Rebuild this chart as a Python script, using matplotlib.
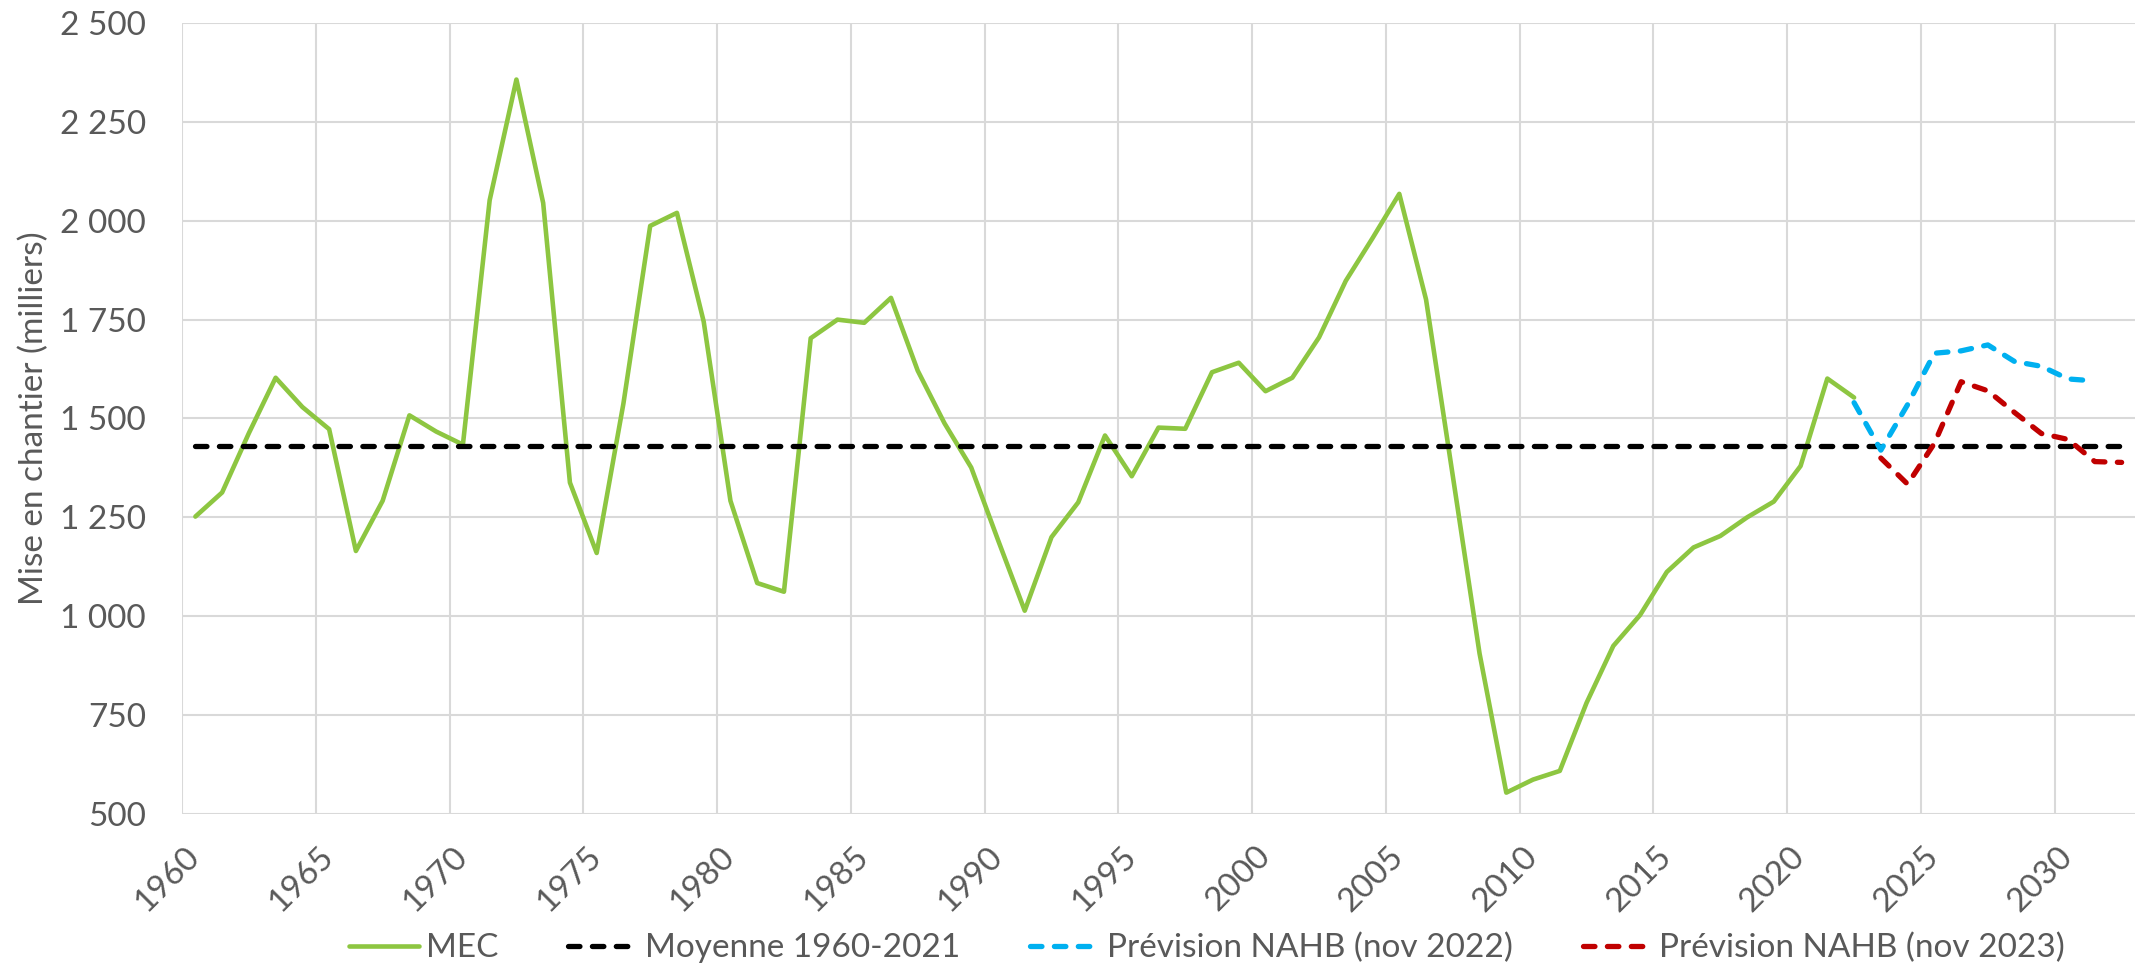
import matplotlib
matplotlib.use("Agg")
import matplotlib.pyplot as plt
import matplotlib.transforms as mtransforms

plt.rcParams['font.family'] = ['Lato', 'DejaVu Sans']

# ---------------- data ----------------
ANNEES_MEC = list(range(1960, 2023))
MEC = [1252, 1313, 1463, 1603, 1529, 1473, 1165, 1292, 1508, 1467,
       1434, 2052, 2357, 2045, 1338, 1160, 1538, 1987, 2020, 1745,
       1292, 1084, 1062, 1703, 1750, 1742, 1805, 1621, 1488, 1376,
       1193, 1014, 1200, 1288, 1457, 1354, 1477, 1474, 1617, 1641,
       1569, 1603, 1705, 1848, 1956, 2068, 1801, 1355, 906, 554,
       587, 609, 781, 925, 1003, 1112, 1174, 1203, 1250, 1290,
       1380, 1601, 1553]

MOYENNE = 1430  # Moyenne 1960-2021

ANNEES_NAHB_2022 = list(range(2022, 2032))
NAHB_2022 = [1540, 1420, 1535, 1665, 1671, 1686, 1644, 1632, 1600, 1595]

ANNEES_NAHB_2023 = list(range(2023, 2033))
NAHB_2023 = [1400, 1334, 1437, 1593, 1570, 1515, 1462, 1447, 1391, 1389]

Y_TICKS = [500, 750, 1000, 1250, 1500, 1750, 2000, 2250, 2500]
X_TICKS = list(range(1960, 2031, 5))

LABELS = ["MEC", "Moyenne 1960-2021", "Prévision NAHB (nov 2022)", "Prévision NAHB (nov 2023)"]
Y_LABEL = "Mise en chantier (milliers)"

# ---------------- style ----------------
W, H = 2136, 971
TXT = '#595959'
GRID = '#D9D9D9'
C_MEC = '#8DC641'
C_MOY = '#000000'
C_22 = '#00B0F0'
C_23 = '#C00000'
FS = 24

fig = plt.figure(figsize=(W / 100, H / 100), dpi=100)
ax = fig.add_axes([182 / W, 1 - 814 / H, (2135 - 182) / W, (814 - 23) / H])

# years are plotted at mid-year (category centre)
def mid(years):
    return [y + 0.5 for y in years]

lw_dash = 3.8
dash = (2.17, 2.36)

l_mec, = ax.plot(mid(ANNEES_MEC), MEC, color=C_MEC, lw=3.3,
                 solid_capstyle='round', solid_joinstyle='round', zorder=3)
l_moy, = ax.plot([ANNEES_MEC[0] + 0.5, ANNEES_NAHB_2023[-1] + 0.5], [MOYENNE, MOYENNE],
                 color=C_MOY, lw=lw_dash, dashes=dash, dash_capstyle='round', zorder=4)
l_22, = ax.plot(mid(ANNEES_NAHB_2022), NAHB_2022, color=C_22, lw=lw_dash, dashes=dash,
                dash_capstyle='round', dash_joinstyle='round', zorder=5)
l_23, = ax.plot(mid(ANNEES_NAHB_2023), NAHB_2023, color=C_23, lw=lw_dash, dashes=dash,
                dash_capstyle='round', dash_joinstyle='round', zorder=6)

ax.set_xlim(1960, 2033)
ax.set_ylim(500, 2500)

ax.set_yticks(Y_TICKS)
ax.set_yticklabels([f"{v:,}".replace(",", " ") for v in Y_TICKS])
ax.set_xticks(X_TICKS)
ax.set_xticklabels([str(x) for x in X_TICKS], rotation=45, ha='right', va='center',
                   rotation_mode='anchor')

ax.tick_params(axis='y', length=0, pad=26, labelsize=FS, labelcolor=TXT)
ax.tick_params(axis='x', length=0, pad=27, labelsize=FS, labelcolor=TXT)

offset = mtransforms.ScaledTranslation(13 / 100, 0, fig.dpi_scale_trans)
for lab in ax.get_xticklabels():
    lab.set_transform(lab.get_transform() + offset)

ax.grid(True, color=GRID, lw=1.5, zorder=0)
ax.set_axisbelow(True)
for s in ax.spines.values():
    s.set_visible(False)

ax.set_ylabel(Y_LABEL, fontsize=FS, color=TXT, va='center')
ax.yaxis.set_label_coords((34 - 182) / (2135 - 182), 0.5)

fig.legend([l_mec, l_moy, l_22, l_23], LABELS, loc='center',
           bbox_to_anchor=(1207 / W, 1 - 948 / H), ncol=4, frameon=False,
           fontsize=FS, handlelength=2.1, handletextpad=0.2, columnspacing=2.1,
           labelcolor=TXT, borderaxespad=0, borderpad=0)

fig.savefig("out.png", dpi=100)
